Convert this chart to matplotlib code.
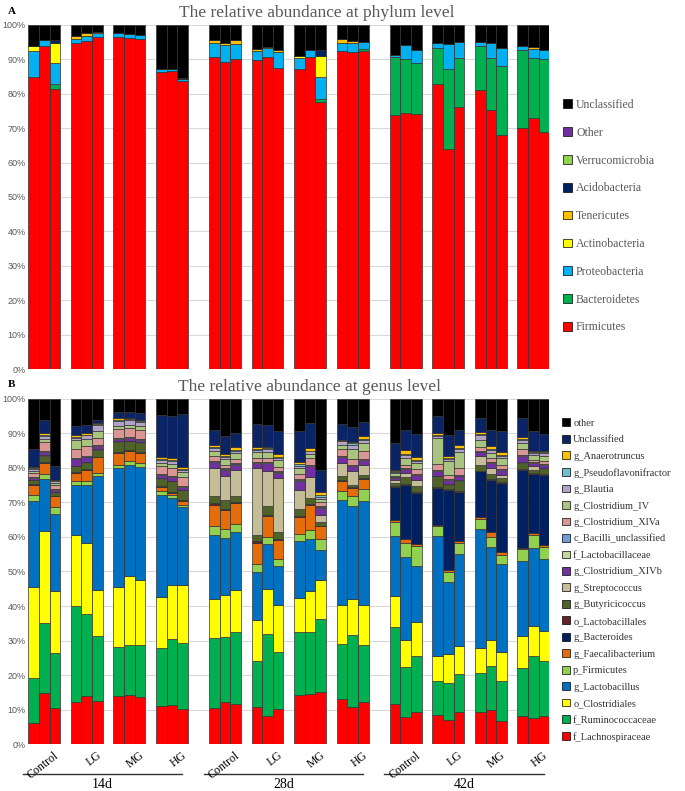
import numpy as np
import matplotlib
matplotlib.use("Agg")
import matplotlib.pyplot as plt
from matplotlib.patches import Patch
from matplotlib.transforms import blended_transform_factory

TIMES = ["14d", "28d", "42d"]
GROUPS = ["Control", "LG", "MG", "HG"]

# --- панель A: типы (phylum), 36 образцов: 3 срока x 4 группы x 3 повтора ---
PHYLA = ["Firmicutes", "Bacteroidetes", "Proteobacteria", "Actinobacteria",
         "Tenericutes", "Acidobacteria", "Verrucomicrobia", "Other", "Unclassified"]
PHYLUM_COLORS = ["#FF0000", "#00B050", "#00B0F0", "#FFFF00", "#FFC000",
                 "#002060", "#92D050", "#7030A0", "#000000"]

firmicutes = [84.8, 93.9, 81.5, 94.8, 95.3, 96.6, 96.5, 96.3, 95.8, 86.4, 86.6, 83.6,
              90.7, 89.2, 90.2, 89.8, 90.8, 87.4, 87.2, 90.8, 77.7, 92.4, 92.1, 92.4,
              73.8, 74.3, 74.1, 82.8, 63.9, 76.1, 81.1, 75.2, 68.1, 70.0, 73.0, 68.8]
bacteroidetes = [0, 0, 1.3, 0, 0, 0, 0, 0, 0, 0, 0, 0,
                 0, 0, 0, 0, 0, 0, 0, 0, 0.9, 0, 0, 0.5,
                 16.8, 15.7, 14.8, 10.6, 23.2, 14.2, 12.9, 15.1, 20.0, 22.7, 17.3, 21.2]
proteobacteria = [7.5, 1.6, 6.1, 1.0, 1.4, 1.0, 1.1, 1.2, 1.3, 0.7, 0.6, 0.7,
                  4.0, 5.0, 4.3, 2.5, 2.4, 4.7, 3.1, 1.9, 6.4, 2.5, 2.6, 2.3,
                  0.7, 4.2, 3.8, 1.3, 7.3, 4.9, 1.0, 4.4, 5.1, 1.2, 2.6, 2.7]
actinobacteria = [1.7, 0, 5.8, 0.2, 0.1, 0, 0, 0, 0, 0, 0, 0,
                  0, 0, 0, 0, 0, 0, 0.8, 0, 6.0, 0, 0, 0,
                  0, 0, 0, 0, 0, 0, 0, 0, 0, 0, 0, 0]
tenericutes = [0, 0, 0, 0.8, 0.8, 0.5, 0, 0, 0, 0, 0, 0,
               0.8, 0.7, 1.0, 0.7, 0.5, 0.6, 0, 0, 0, 0.9, 0.7, 0,
               0, 0, 0, 0, 0, 0, 0, 0, 0, 0, 0.6, 0]
acidobacteria = [0, 0, 1.0, 0, 0, 0, 0, 0, 0, 0, 0, 0.3,
                 0, 0, 0, 0, 0, 0, 0, 0, 1.7, 0, 0, 0,
                 0, 0, 0, 0, 0, 0, 0, 0, 0, 0, 0, 0]
verrucomicrobia = [0] * 36
other_phylum = [0] * 36
unclassified_phylum = [6.0, 4.5, 4.3, 3.2, 2.4, 1.9, 2.4, 2.5, 2.9, 12.9, 12.8, 15.4,
                       4.5, 5.1, 4.5, 7.0, 6.3, 7.3, 8.9, 7.3, 7.3, 4.2, 4.6, 4.8,
                       8.7, 5.8, 7.3, 5.3, 5.6, 4.8, 5.0, 5.3, 6.8, 6.1, 6.5, 7.3]

phylum_series = [firmicutes, bacteroidetes, proteobacteria, actinobacteria, tenericutes,
                 acidobacteria, verrucomicrobia, other_phylum, unclassified_phylum]

# --- панель B: роды (genus) ---
GENERA = ["f_Lachnospiraceae", "f_Ruminococcaceae", "o_Clostridiales", "g_Lactobacillus",
          "p_Firmicutes", "g_Faecalibacterium", "g_Bacteroides", "o_Lactobacillales",
          "g_Butyricicoccus", "g_Streptococcus", "g_Clostridium_XIVb", "f_Lactobacillaceae",
          "c_Bacilli_unclassified", "g_Clostridium_XlVa", "g_Clostridium_IV", "g_Blautia",
          "g_Pseudoflavonifractor", "g_Anaerotruncus", "Unclassified", "other"]
GENUS_COLORS = ["#FF0000", "#00B050", "#FFFF00", "#0070C0", "#92D050", "#E46C0A",
                "#002060", "#632523", "#4F6228", "#C4BD97", "#7030A0", "#C3D69B",
                "#6F9FD8", "#D99694", "#A9C47F", "#B3A2C7", "#6BC0D0", "#FFC000",
                "#0B2466", "#000000"]

lachnospiraceae = [6.1, 14.8, 10.4, 12.2, 13.8, 12.6, 14.0, 14.3, 13.5, 10.9, 11.4, 10.2,
                   10.4, 12.1, 11.7, 10.6, 8.2, 10.1, 14.3, 14.6, 15.0, 13.0, 10.6, 12.2,
                   11.7, 7.8, 9.3, 8.3, 7.1, 9.2, 9.2, 10.0, 6.8, 8.2, 7.5, 8.0]
ruminococcaceae = [13.0, 20.3, 16.0, 27.7, 23.9, 18.6, 14.1, 14.3, 15.3, 16.9, 19.1, 19.1,
                   20.3, 18.9, 20.7, 13.4, 23.8, 16.6, 18.2, 17.9, 21.3, 16.1, 21.1, 16.6,
                   22.2, 14.5, 16.1, 9.9, 10.6, 11.1, 11.4, 12.5, 11.4, 13.8, 18.1, 16.0]
clostridiales = [26.4, 26.5, 18.0, 20.6, 20.6, 13.5, 17.3, 20.2, 18.8, 14.8, 15.5, 16.7,
                 11.3, 12.1, 12.3, 12.0, 12.9, 13.7, 9.8, 11.9, 11.3, 11.1, 10.3, 11.4,
                 9.1, 7.9, 10.0, 7.2, 8.4, 8.0, 7.2, 7.7, 8.4, 9.2, 8.7, 8.7]
lactobacillus = [24.8, 15.3, 22.3, 14.7, 16.9, 33.1, 34.6, 32.2, 32.7, 29.5, 25.3, 22.6,
                 18.7, 16.6, 16.7, 13.9, 13.2, 11.1, 16.4, 15.0, 8.5, 30.4, 27.1, 30.3,
                 17.4, 24.0, 16.1, 34.8, 20.9, 26.8, 34.5, 26.9, 25.6, 21.9, 22.5, 21.0]
p_firmicutes = [1.8, 1.5, 1.9, 0.9, 0.9, 0.8, 1.0, 1.0, 1.1, 1.1, 1.0, 0.8,
                2.4, 2.7, 2.5, 2.4, 1.9, 2.2, 2.3, 2.7, 3.3, 2.6, 2.7, 3.4,
                3.9, 4.1, 5.8, 3.1, 2.8, 3.2, 2.9, 2.9, 2.7, 3.4, 3.7, 3.3]
faecalibacterium = [3.0, 3.0, 3.2, 2.5, 3.4, 4.5, 3.3, 3.0, 2.9, 1.3, 0.5, 0.9,
                    6.3, 5.5, 6.0, 6.0, 6.0, 5.5, 4.8, 7.1, 3.7, 3.1, 2.4, 2.9,
                    0.5, 1.1, 0.8, 0.3, 0.5, 0.4, 0.6, 1.4, 0.8, 0.3, 0.7, 0.6]
bacteroides = [0, 0, 0, 0, 0, 0, 0, 0, 0, 0, 0, 0,
               0, 0, 0, 0, 0, 0, 0, 0, 0, 0, 0, 0,
               9.7, 15.8, 14.7, 10.6, 23.4, 14.3, 13.2, 15.2, 20.0, 22.7, 17.1, 20.5]
lactobacillales = [0.2, 0.2, 0.2, 0.2, 0.2, 0.2, 0.2, 0.2, 0.2, 0.2, 0.3, 0.3,
                   0.5, 0.3, 0.3, 0.4, 0.3, 0.3, 0.3, 0.3, 0.2, 0.2, 0.2, 0.2,
                   0.2, 0.2, 0.2, 0.2, 0.2, 0.2, 0.2, 0.2, 0.2, 0.2, 0.2, 0.2]
butyricicoccus = [1.2, 2.0, 0.8, 1.7, 1.7, 2.0, 3.0, 2.5, 2.7, 2.1, 3.0, 2.9,
                  1.9, 2.4, 1.8, 2.0, 2.6, 1.9, 2.0, 1.8, 1.0, 1.1, 0.8, 1.1,
                  1.0, 1.9, 1.9, 3.2, 1.3, 2.9, 1.8, 1.5, 1.2, 1.7, 1.0, 1.4]
streptococcus = [0, 0.3, 0.3, 0.2, 0.2, 0.2, 0.2, 0.2, 0.2, 0.2, 0.2, 0.2,
                 8.2, 7.0, 7.3, 19.3, 10.1, 15.7, 5.6, 6.0, 2.2, 3.8, 3.8, 2.9,
                 0.7, 1.3, 1.7, 0.2, 0.2, 0.3, 2.4, 1.7, 1.0, 0.2, 1.2, 0.3]
clostridium_xivb = [0.5, 0.6, 0.4, 1.8, 1.5, 1.0, 0.7, 0.8, 0.8, 1.1, 1.1, 0.9,
                    1.6, 1.9, 1.7, 1.4, 2.4, 1.5, 2.6, 3.4, 1.9, 1.8, 1.7, 1.4,
                    0.7, 1.1, 1.5, 1.4, 1.2, 1.2, 1.1, 1.4, 1.4, 2.0, 0.7, 1.0]
lactobacillaceae = [0.3, 0.3, 0.3, 0.2, 0.2, 0.2, 0.2, 0.2, 0.2, 0.2, 0.2, 0.2,
                    0.3, 0.2, 0.2, 0.2, 0.2, 0.2, 0.2, 0.2, 0.2, 0.2, 0.2, 0.2,
                    0.2, 0.2, 0.2, 0.2, 0.2, 0.2, 0.2, 0.2, 0.2, 0.2, 0.2, 0.2]
bacilli_unclassified = [0, 0.2, 0.1, 0.1, 0.1, 0.1, 0.1, 0.1, 0.1, 0.1, 0.1, 0.1,
                        0.2, 0.2, 0.2, 0.2, 0.2, 0.2, 0.3, 0.1, 0.3, 0.1, 0.1, 0.1,
                        0.1, 0.1, 0.1, 0.1, 0.1, 0.1, 0.1, 0.1, 0.1, 0.1, 0.1, 0.1]
clostridium_xlva = [1.2, 2.6, 1.2, 2.7, 2.9, 1.8, 2.6, 2.7, 2.6, 2.2, 2.2, 2.6,
                    1.3, 1.1, 1.2, 1.2, 1.2, 1.4, 1.5, 1.8, 1.1, 2.0, 1.7, 2.1,
                    0.4, 1.0, 1.2, 1.8, 1.2, 2.0, 1.2, 1.2, 1.2, 1.6, 0.7, 0.8]
clostridium_iv = [0.7, 0.9, 0.6, 2.7, 2.2, 2.2, 1.0, 0.9, 1.0, 0.9, 1.3, 1.2,
                  1.5, 1.6, 1.7, 1.5, 1.6, 1.8, 1.8, 1.3, 1.1, 1.3, 2.8, 2.4,
                  0.7, 1.9, 1.8, 7.4, 3.8, 4.8, 2.2, 1.4, 1.9, 1.7, 1.5, 1.5]
blautia = [0.5, 0.8, 0.5, 0.6, 1.0, 1.7, 1.4, 1.2, 1.2, 0.8, 0.8, 0.8,
           0.8, 0.7, 0.7, 0.8, 0.9, 0.8, 0.5, 0.7, 0.4, 0.9, 1.3, 0.9,
           0.3, 0.8, 0.7, 0.6, 0.6, 0.9, 1.4, 0.8, 0.7, 1.0, 0.5, 0.7]
pseudoflavonifractor = [0.2, 0.3, 0.1, 0.3, 0.2, 0.2, 0.3, 0.3, 0.3, 0.3, 0.3, 0.2,
                        0.3, 0.3, 0.3, 0.2, 0.2, 0.2, 0.5, 0.2, 0.6, 0.2, 0.3, 0.2,
                        0.2, 0.3, 0.3, 0.3, 0.3, 0.3, 0.2, 0.3, 0.3, 0.2, 0.2, 0.2]
anaerotruncus = [0.4, 0.5, 0.3, 0.4, 0.4, 0.3, 0.5, 0.4, 0.4, 0.5, 0.6, 0.5,
                 0.8, 0.5, 0.9, 0.5, 0.5, 0.8, 0.6, 0.9, 0.8, 0.3, 0.4, 0.9,
                 0.5, 1.1, 0.9, 0.5, 0.8, 0.9, 0.5, 0.9, 0.6, 0.5, 0.2, 0.5]
unclassified_genus = [5.1, 3.9, 4.1, 2.6, 2.5, 1.0, 1.6, 1.6, 1.9, 12.4, 12.3, 15.5,
                      4.3, 5.1, 3.9, 6.8, 6.4, 6.8, 9.1, 7.0, 6.6, 4.6, 4.3, 4.0,
                      7.7, 5.8, 6.6, 4.9, 5.9, 4.3, 4.2, 4.8, 6.3, 5.6, 5.8, 4.9]
other_genus = [14.6, 6.0, 19.3, 7.9, 7.4, 6.0, 3.9, 3.9, 4.1, 4.5, 4.8, 4.3,
               8.9, 10.8, 9.9, 7.2, 7.4, 9.2, 9.2, 7.1, 20.5, 7.2, 8.2, 6.8,
               12.8, 9.1, 10.1, 5.0, 10.5, 8.9, 5.5, 8.9, 9.2, 5.5, 9.4, 10.1]

genus_series = [lachnospiraceae, ruminococcaceae, clostridiales, lactobacillus, p_firmicutes,
                faecalibacterium, bacteroides, lactobacillales, butyricicoccus, streptococcus,
                clostridium_xivb, lactobacillaceae, bacilli_unclassified, clostridium_xlva,
                clostridium_iv, blautia, pseudoflavonifractor, anaerotruncus,
                unclassified_genus, other_genus]

SERIF = "Liberation Serif"
GRAY = "#595959"

# позиции столбцов: 3 повтора рядом, пробел между группами, двойной между сроками
x = np.array([t * 17 + g * 4 + r for t in range(3) for g in range(4) for r in range(3)])


def draw_stack(ax, series, colors):
    data = np.array(series, dtype=float)
    data = data / data.sum(axis=0) * 100  # относительная численность
    bottom = np.zeros(data.shape[1])
    for vals, c in zip(data, colors):
        ax.bar(x, vals, width=1.0, bottom=bottom, color=c,
               edgecolor="#333333", linewidth=0.5)
        bottom += vals

    ax.set_xlim(-0.5, 48.5)
    ax.set_ylim(0, 100)
    ax.set_yticks(range(0, 101, 10))
    ax.set_yticklabels([f"{v}%" for v in range(0, 101, 10)],
                       family="Liberation Sans", fontsize=6.5, color=GRAY)
    ax.tick_params(axis="y", length=0, pad=2)
    ax.set_xticks([])
    ax.yaxis.grid(True, color="#D9D9D9", linewidth=0.8)
    ax.set_axisbelow(True)
    for s in ax.spines.values():
        s.set_visible(False)


def add_legend(fig, names, colors, anchor, fontsize, spacing, textcolor):
    handles = [Patch(facecolor=c, edgecolor="black", linewidth=0.5, label=n)
               for n, c in zip(names, colors)][::-1]
    fig.legend(handles=handles, loc="upper left", bbox_to_anchor=anchor,
               frameon=False, prop={"family": SERIF, "size": fontsize},
               labelcolor=textcolor, labelspacing=spacing, handlelength=0.75,
               handleheight=0.75, handletextpad=0.35, borderpad=0, borderaxespad=0)


fig = plt.figure(figsize=(6.85, 7.91), dpi=100)
ax_a = fig.add_axes([0.0413, 0.5335, 0.7606, 0.4349])
ax_b = fig.add_axes([0.0413, 0.0594, 0.7606, 0.4362])

draw_stack(ax_a, phylum_series, PHYLUM_COLORS)
draw_stack(ax_b, genus_series, GENUS_COLORS)

fig.text(0.462, 0.984, "The relative abundance at phylum level", family=SERIF,
         fontsize=12.5, color=GRAY, ha="center", va="center")
fig.text(0.452, 0.511, "The relative abundance at genus level", family=SERIF,
         fontsize=12.5, color=GRAY, ha="center", va="center")
fig.text(0.012, 0.986, "A", family=SERIF, fontsize=8, fontweight="bold", va="center")
fig.text(0.012, 0.514, "B", family=SERIF, fontsize=8, fontweight="bold", va="center")

add_legend(fig, PHYLA, PHYLUM_COLORS, (0.822, 0.875), 8.5, 1.34, GRAY)
add_legend(fig, GENERA, GENUS_COLORS, (0.820, 0.471), 7.5, 0.675, "#333333")

# подписи групп и сроков под панелью B
trans = blended_transform_factory(ax_b.transData, ax_b.transAxes)
for t, tname in enumerate(TIMES):
    for g, gname in enumerate(GROUPS):
        cx = t * 17 + g * 4 + 1
        ax_b.text(cx + 0.9, -0.015, gname, transform=trans, family=SERIF, fontsize=8.5,
                  rotation=38, rotation_mode="anchor", ha="right", va="top", clip_on=False)
    start, end = t * 17 - 1.0, t * 17 + 14.0
    ax_b.plot([start, end], [-0.087, -0.087], transform=trans, color="#333333",
              linewidth=1.0, clip_on=False)
    ax_b.text((start + end) / 2, -0.099, tname, transform=trans, family=SERIF,
              fontsize=10, ha="center", va="top")

fig.savefig("out.png", dpi=100)
